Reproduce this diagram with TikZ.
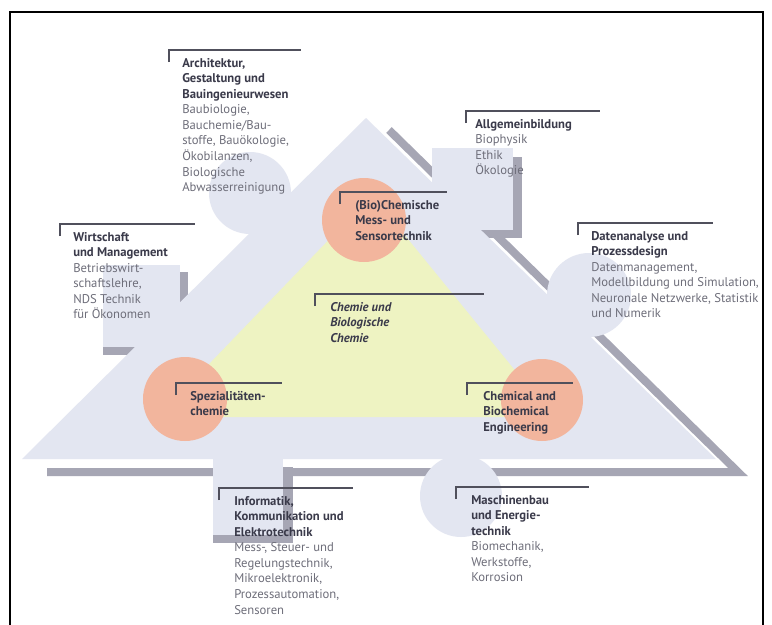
\documentclass[tikz,border=0pt]{standalone}
\usepackage{fontspec}
\setmainfont{PT Sans}
\definecolor{tri}{RGB}{227,230,241}
\definecolor{shade}{RGB}{166,166,180}
\definecolor{yel}{RGB}{238,243,194}
\definecolor{ora}{RGB}{242,181,157}
\definecolor{headc}{RGB}{58,58,74}
\definecolor{bodyc}{RGB}{110,110,122}
\definecolor{brk}{RGB}{80,80,92}
\newcommand\hd[1]{{\bfseries\color{headc}#1}}
\newcommand\bd[1]{{\color{bodyc}#1}}
\newcommand\hi[1]{{\bfseries\itshape\color{headc}#1}}
\newcommand\brlabel[6]{%
  \draw[bracket] (#2,#3+12) -- (#2,#3) -- (#4,#3);
  \node[lbltext] (#1) at (#5,#3+8) {#6};
}
\tikzset{
  bracket/.style={draw=brk, line width=1.1pt},
  lbltext/.style={anchor=north west, inner sep=0pt, align=left,
    font=\fontsize{9.5}{11.65}\selectfont},
  shadowband/.style={draw=shade, line width=6pt, line cap=butt, line join=miter},
  shadowbox/.style={fill=shade},
  lightshape/.style={fill=tri},
}
\begin{document}
\begin{tikzpicture}[x=0.75pt,y=-0.75pt]
\useasboundingbox (0,0) rectangle (772,625);
\fill[white] (0,0) rectangle (772,625);
% frame
\draw[black, line width=1.5pt] (10,625) -- (10,12) -- (763,12) -- (763,625);
% shadows
\draw[shadowband] (389,130) -- (738,472) -- (47,472);
\fill[shadowbox] (513,157) rectangle (522,238);
\fill[shadowbox] (432,230) rectangle (522,238);
\fill[shadowbox] (180,272) rectangle (188,355);
\fill[shadowbox] (103,347) rectangle (188,355);
\fill[shadowbox] (283,467) rectangle (293,543);
\fill[shadowbox] (213,535) rectangle (293,543);
% light shapes
\fill[lightshape] (366,118) -- (22,459) -- (716,459) -- cycle;
\fill[lightshape] (432,148) rectangle (513,230);
\fill[lightshape] (103,265) rectangle (180,347);
\fill[lightshape] (213,440) rectangle (283,535);
\fill[lightshape] (250,193) circle (41);
\fill[lightshape] (589,295) circle (42);
\fill[lightshape] (461,496) circle (41);
% inner triangle and circles
\fill[yel] (372,195) -- (158,417) -- (553,417) -- cycle;
\fill[ora] (364,220) circle (42);
\fill[ora] (185,399) circle (42);
\fill[ora] (542,400) circle (41);
% labels
\brlabel{arch}{169}{50}{301}{182}{\hd{Architektur,}\\\hd{Gestaltung und}\\\hd{Bauingenieurwesen}\\\bd{Baubiologie,}\\\bd{Bauchemie/Bau-}\\\bd{stoffe, Bauökologie,}\\\bd{Ökobilanzen,}\\\bd{Biologische}\\\bd{Abwasserreinigung}}
\brlabel{allg}{466}{111}{600}{475}{\hd{Allgemeinbildung}\\\bd{Biophysik}\\\bd{Ethik}\\\bd{Ökologie}}
\brlabel{wirt}{60}{224}{195}{73}{\hd{Wirtschaft}\\\hd{und Management}\\\bd{Betriebswirt-}\\\bd{schaftslehre,}\\\bd{NDS Technik}\\\bd{für Ökonomen}}
\brlabel{daten}{578}{223}{713}{591}{\hd{Datenanalyse und}\\\hd{Prozessdesign}\\\bd{Datenmanagement,}\\\bd{Modellbildung und Simulation,}\\\bd{Neuronale Netzwerke, Statistik}\\\bd{und Numerik}}
\brlabel{bio}{340}{192}{447}{355}{\hd{(Bio)Chemische}\\\hd{Mess- und}\\\hd{Sensortechnik}}
\brlabel{chem}{315}{294}{484}{330}{\hi{Chemie und}\\\hi{Biologische}\\\hi{Chemie}}
\brlabel{spez}{176}{383}{282}{190}{\hd{Spezialitäten-}\\\hd{chemie}}
\brlabel{cheng}{467}{383}{573}{483}{\hd{Chemical and}\\\hd{Biochemical}\\\hd{Engineering}}
\brlabel{info}{219}{488}{353}{234}{\hd{Informatik,}\\\hd{Kommunikation und}\\\hd{Elektrotechnik}\\\bd{Mess-, Steuer- und}\\\bd{Regelungstechnik,}\\\bd{Mikroelektronik,}\\\bd{Prozessautomation,}\\\bd{Sensoren}}
\brlabel{masch}{456}{487}{589}{471}{\hd{Maschinenbau}\\\hd{und Energie-}\\\hd{technik}\\\bd{Biomechanik,}\\\bd{Werkstoffe,}\\\bd{Korrosion}}
\end{tikzpicture}
\end{document}
